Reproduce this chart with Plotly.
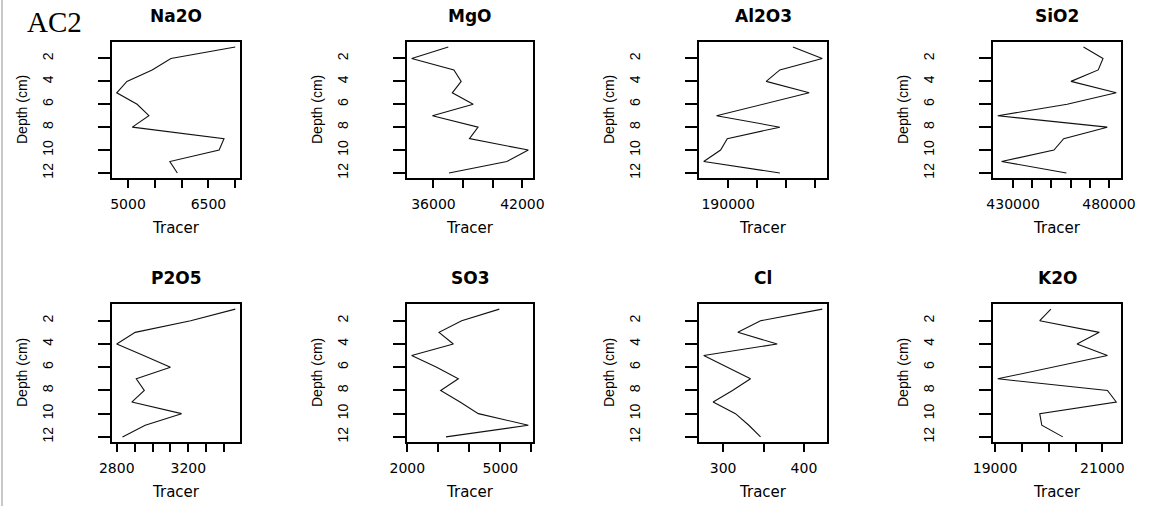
import plotly.graph_objects as go

# ---------------- data ----------------
depth = [1, 2, 3, 4, 5, 6, 7, 8, 9, 10, 11, 12]
elements = ["Na2O", "MgO", "Al2O3", "SiO2", "P2O5", "SO3", "Cl", "K2O"]

na2o = [7000, 5800, 5450, 4980, 4790, 5170, 5390, 5080, 6790, 6700, 5780, 5920]
mgo = [37000, 34530, 37380, 37870, 37270, 38680, 35930, 39010, 38430, 42400, 40950, 37050]
al2o3 = [212300, 222400, 207800, 203100, 217900, 202000, 186000, 207800, 189700, 187400, 181600, 207800]
sio2 = [466700, 476900, 474400, 460200, 483800, 458200, 422000, 479100, 456400, 451300, 424000, 457800]
p2o5 = [3462, 3213, 2903, 2800, 2950, 3100, 2909, 2954, 2884, 3162, 2959, 2832]
so3 = [4968, 3753, 3022, 3484, 2140, 2946, 3645, 3075, 3700, 4290, 5903, 3247]
cl = [422.7, 346.3, 318.2, 366.9, 276.0, 305.0, 333.9, 311.6, 287.6, 315.3, 331.8, 346.3]
k2o = [20041, 19833, 20943, 20527, 21095, 20060, 19050, 21095, 21259, 19833, 19871, 20262]

series = [na2o, mgo, al2o3, sio2, p2o5, so3, cl, k2o]

na2o_ticks = [5000, 5500, 6000, 6500, 7000]
na2o_labels = ["5000", "", "", "6500", ""]
mgo_ticks = [36000, 38000, 40000, 42000]
mgo_labels = ["36000", "", "", "42000"]
al2o3_ticks = [190000, 200000, 210000, 220000]
al2o3_labels = ["190000", "", "", ""]
sio2_ticks = [430000, 440000, 450000, 460000, 470000, 480000]
sio2_labels = ["430000", "", "", "", "", "480000"]
p2o5_ticks = [2800, 2900, 3000, 3100, 3200, 3300, 3400]
p2o5_labels = ["2800", "", "", "", "3200", "", ""]
so3_ticks = [2000, 3000, 4000, 5000, 6000]
so3_labels = ["2000", "", "", "5000", ""]
cl_ticks = [300, 350, 400]
cl_labels = ["300", "", "400"]
k2o_ticks = [19000, 19500, 20000, 20500, 21000]
k2o_labels = ["19000", "", "", "", "21000"]

x_ticks = [na2o_ticks, mgo_ticks, al2o3_ticks, sio2_ticks, p2o5_ticks, so3_ticks, cl_ticks, k2o_ticks]
x_labels = [na2o_labels, mgo_labels, al2o3_labels, sio2_labels, p2o5_labels, so3_labels, cl_labels, k2o_labels]

depth_ticks = [2, 4, 6, 8, 10, 12]
depth_labels = ["2", "4", "6", "8", "10", "12"]

x_title = "Tracer"
y_title = "Depth (cm)"
site_label = "AC2"

# ---------------- layout geometry (pixels) ----------------
W, H = 1152, 506
col_px = [(112, 240), (407, 533), (699, 827), (993, 1121)]
row_px = [(42, 178), (304, 442)]


def px_x(p):
    return p / W


def px_y(p):
    return 1 - p / H


def pad_range(vals, f=0.04):
    lo, hi = min(vals), max(vals)
    d = (hi - lo) * f
    return [lo - d, hi + d]


fig = go.Figure()
layout = dict(
    template="none",
    width=W, height=H, autosize=False,
    margin=dict(l=0, r=0, t=0, b=0, pad=0),
    paper_bgcolor="white", plot_bgcolor="white",
    showlegend=False,
)
annotations = []

dmin, dmax = min(depth), max(depth)
dpad = (dmax - dmin) * 0.04
yrange = [dmax + dpad, dmin - dpad]

for i, (name, vals) in enumerate(zip(elements, series)):
    r, c = divmod(i, 4)
    x0, x1 = col_px[c]
    y0, y1 = row_px[r]
    k = "" if i == 0 else str(i + 1)
    fig.add_trace(go.Scatter(
        x=vals, y=depth, mode="lines",
        line=dict(color="#111111", width=1.1),
        xaxis="x" + k, yaxis="y" + k, hoverinfo="x+y",
    ))
    layout["xaxis" + k] = dict(
        domain=[px_x(x0), px_x(x1)], anchor="y" + k,
        range=pad_range(vals), automargin=False,
        tickmode="array", tickvals=x_ticks[i], ticktext=x_labels[i],
        ticks="outside", ticklen=8, tickcolor="black", tickwidth=1.5,
        showline=True, mirror=True, linecolor="black", linewidth=1.5,
        showgrid=False, zeroline=False,
        tickfont=dict(family="DejaVu Sans", size=14, color="black"),
        ticklabelstandoff=4,
    )
    layout["yaxis" + k] = dict(
        domain=[px_y(y1), px_y(y0)], anchor="x" + k,
        range=yrange, automargin=False,
        tickmode="array", tickvals=depth_ticks, ticktext=depth_labels,
        ticks="outside", ticklen=12, tickcolor="black", tickwidth=1.5,
        tickangle=-90,
        showline=True, mirror=True, linecolor="black", linewidth=1.5,
        showgrid=False, zeroline=False,
        tickfont=dict(family="Liberation Sans", size=14, color="black"),
        ticklabelstandoff=40,
    )
    cx = (x0 + x1) / 2
    annotations.append(dict(
        text="<b>" + name + "</b>", x=px_x(cx), y=px_y(y0 - 26),
        xref="paper", yref="paper", showarrow=False,
        xanchor="center", yanchor="middle",
        font=dict(family="DejaVu Sans", size=17, color="black"),
    ))
    annotations.append(dict(
        text=x_title, x=px_x(cx), y=px_y(y1 + 50),
        xref="paper", yref="paper", showarrow=False,
        xanchor="center", yanchor="middle",
        font=dict(family="DejaVu Sans", size=15, color="black"),
    ))
    annotations.append(dict(
        text=y_title, x=px_x(x0 - 90), y=px_y((y0 + y1) / 2),
        xref="paper", yref="paper", showarrow=False, textangle=-90,
        xanchor="center", yanchor="middle",
        font=dict(family="Liberation Sans", size=14, color="black"),
    ))

annotations.append(dict(
    text=site_label, x=px_x(25), y=px_y(22),
    xref="paper", yref="paper", showarrow=False,
    xanchor="left", yanchor="middle",
    font=dict(family="Liberation Serif", size=29, color="black"),
))

layout["annotations"] = annotations
layout["shapes"] = [dict(
    type="line", xref="paper", yref="paper",
    x0=px_x(2), x1=px_x(2), y0=0, y1=1,
    line=dict(color="#c8c8c8", width=2),
)]
fig.update_layout(**layout)
fig.write_html(
    "out.html",
    config={"displayModeBar": False},
    post_script="document.body.style.margin='0px';document.body.style.overflow='hidden';",
)
